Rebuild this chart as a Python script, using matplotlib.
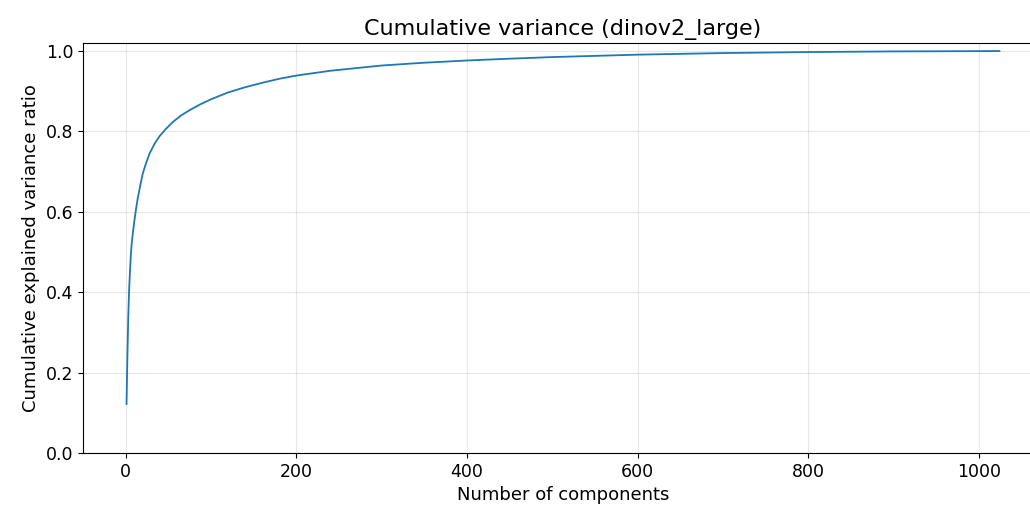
import matplotlib
matplotlib.use("Agg")
import matplotlib.pyplot as plt

# Cumulative explained variance
n_components = [1, 2, 3, 4, 5, 6, 7, 8, 10, 12, 14, 17, 20, 24, 28, 34, 40, 47,
                55, 65, 75, 87, 100, 120, 140, 160, 180, 200, 240, 300, 350,
                400, 450, 500, 600, 700, 800, 900, 1024]
cum_var = [0.122, 0.24, 0.335, 0.405, 0.45, 0.49, 0.52, 0.54, 0.575, 0.605,
           0.632, 0.665, 0.695, 0.722, 0.745, 0.770, 0.789, 0.806, 0.823,
           0.840, 0.853, 0.867, 0.880, 0.897, 0.910, 0.921, 0.931, 0.939,
           0.951, 0.964, 0.971, 0.9765, 0.981, 0.985, 0.991, 0.995, 0.9975,
           0.9991, 1.0]

x_ticks = [0, 200, 400, 600, 800, 1000]
y_ticks = [0.0, 0.2, 0.4, 0.6, 0.8, 1.0]

fig = plt.figure(figsize=(10.3, 5.12), dpi=100)
ax = fig.add_axes([0.0806, 0.1152, 0.932, 0.8008])

ax.plot(n_components, cum_var, color="#1f77b4", linewidth=1.3)
ax.set_xlim(-50, 1075)
ax.set_ylim(0, 1.02)
ax.set_xticks(x_ticks)
ax.set_yticks(y_ticks)
ax.tick_params(labelsize=12.5)
ax.grid(True, alpha=0.3)

ax.set_title("Cumulative variance (dinov2_large)", fontsize=16)
ax.set_xlabel("Number of components", fontsize=13)
ax.set_ylabel("Cumulative explained variance ratio", fontsize=13)

fig.savefig("out.png", dpi=100)
